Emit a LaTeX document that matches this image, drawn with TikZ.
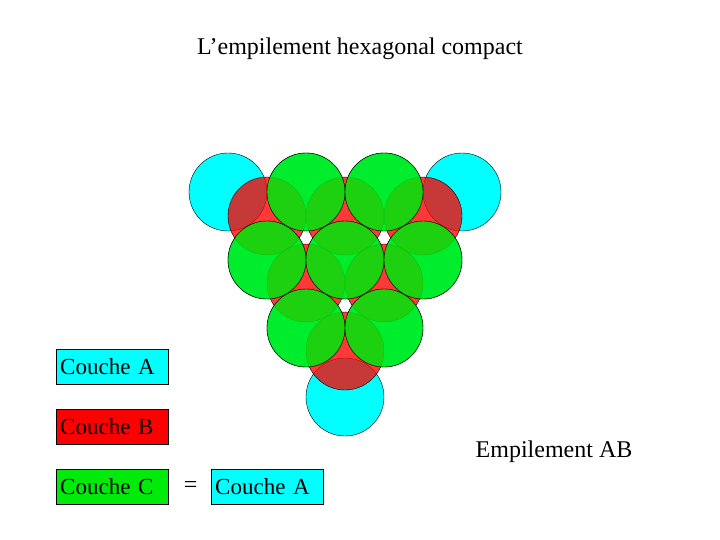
\documentclass[tikz,border=0pt]{standalone}
\usepackage{fontspec}
\setmainfont{Liberation Serif}
\usetikzlibrary{positioning}
\definecolor{cyanA}{RGB}{0,255,255}
\definecolor{redB}{RGB}{255,0,0}
\definecolor{greenC}{RGB}{0,235,10}
\tikzset{
  ballA/.style = {circle, draw=black, fill=cyanA, minimum size=78pt, inner sep=0pt},
  ballB/.style = {circle, draw=black, fill=redB, fill opacity=0.78, minimum size=78pt, inner sep=0pt},
  ballC/.style = {circle, draw=black, fill=greenC, fill opacity=0.85, minimum size=78pt, inner sep=0pt},
  legend/.style = {rectangle, draw=black, text width=104pt, minimum height=35pt, inner sep=4pt, align=left, font=\fontsize{23}{28}\selectfont},
  label/.style = {font=\fontsize{24}{28}\selectfont}
}
\begin{document}
\begin{tikzpicture}[x=1pt, y=-1pt]
    \useasboundingbox (0,0) rectangle (720,540);
    \node (title) [label] at (360,49) {L’empilement hexagonal compact};

    % couche A
    \foreach \x/\y [count=\i] in {228/192, 306/192, 384/192, 462/192, 267/260, 345/260, 423/260, 306/328, 384/328, 345/397}
        \node (a\i) [ballA] at (\x,\y) {};
    % couche B
    \foreach \x/\y [count=\i] in {267/216, 345/216, 423/216, 306/283, 384/283, 345/351}
        \node (b\i) [ballB] at (\x,\y) {};
    % couche C
    \foreach \x/\y [count=\i] in {306/192, 384/192, 267/260, 345/260, 423/260, 306/328, 384/328}
        \node (c\i) [ballC] at (\x,\y) {};

    \node (legA) [legend, fill=cyanA, anchor=west] at (56,367) {Couche A};
    \node (legB) [legend, fill=redB, anchor=west] at (56,427) {Couche B};
    \node (legC) [legend, fill=greenC, anchor=west] at (56,487) {Couche C};
    \node (eq) [label, right=12pt of legC] {=};
    \node (legCA) [legend, fill=cyanA, right=10pt of eq] {Couche A};
    \node (stack) [label] at (554,452) {Empilement AB};
\end{tikzpicture}
\end{document}
